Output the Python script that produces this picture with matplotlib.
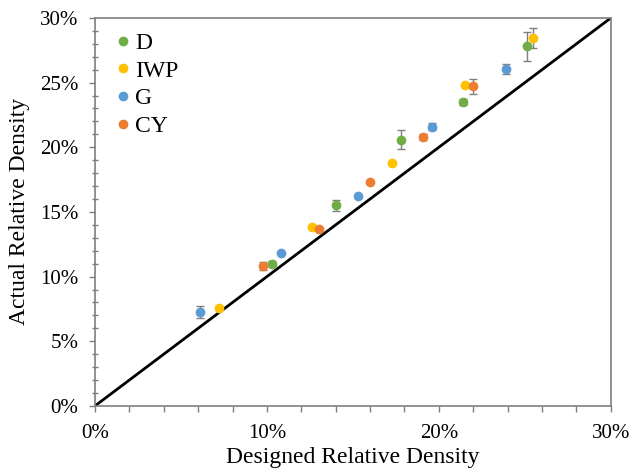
import numpy as np
import matplotlib
matplotlib.use("Agg")
import matplotlib.pyplot as plt
from matplotlib.ticker import PercentFormatter, MultipleLocator

# designed vs actual relative density, in percent
d_x = [10.3, 14.0, 17.8, 21.4, 25.1]
d_y = [11.0, 15.5, 20.6, 23.5, 27.8]
d_err = [0.2, 0.4, 0.75, 0.25, 1.1]

iwp_x = [7.2, 12.6, 17.3, 21.5, 25.45]
iwp_y = [7.55, 13.8, 18.8, 24.8, 28.45]
iwp_err = [0, 0, 0, 0, 0.78]

g_x = [6.1, 10.8, 15.3, 19.6, 23.9]
g_y = [7.25, 11.85, 16.2, 21.6, 26.05]
g_err = [0.45, 0, 0, 0.3, 0.35]

cy_x = [9.8, 13.0, 16.0, 19.1, 22.0]
cy_y = [10.8, 13.7, 17.3, 20.8, 24.7]
cy_err = [0.3, 0, 0, 0.2, 0.55]

plt.rcParams['font.family'] = ['Liberation Serif', 'DejaVu Serif']

fig = plt.figure(figsize=(6.33, 4.72), dpi=100)
ax = fig.add_axes([0.150, 0.140, 0.815, 0.822])

ax.plot([0, 30], [0, 30], color='black', lw=2.0, zorder=2)

series = [
    ("D", d_x, d_y, d_err, "#70AD47"),
    ("IWP", iwp_x, iwp_y, iwp_err, "#FFC000"),
    ("G", g_x, g_y, g_err, "#5B9BD5"),
    ("CY", cy_x, cy_y, cy_err, "#ED7D31"),
]
for name, xs, ys, es, col in series:
    ax.errorbar(xs, ys, yerr=es, fmt='none', ecolor='#7f7f7f', elinewidth=1.0,
                capsize=3, capthick=1.0, zorder=3)
    ax.plot(xs, ys, 'o', color=col, ms=6, label=name, zorder=4)

ax.set_xlim(0, 30)
ax.set_ylim(0, 30)
ax.xaxis.set_major_locator(MultipleLocator(10))
ax.xaxis.set_minor_locator(MultipleLocator(2))
ax.yaxis.set_major_locator(MultipleLocator(5))
ax.yaxis.set_minor_locator(MultipleLocator(1))
ax.xaxis.set_major_formatter(PercentFormatter(100, decimals=0))
ax.yaxis.set_major_formatter(PercentFormatter(100, decimals=0))

ax.tick_params(which='major', direction='out', length=4, width=1, color='#7f7f7f',
               labelsize=15)
ax.tick_params(axis='x', which='major', pad=9)
ax.tick_params(axis='y', which='major', pad=8)
ax.tick_params(axis='y', which='minor', direction='inout', length=5, width=1, color='#7f7f7f')
ax.tick_params(axis='x', which='minor', direction='out', length=4, width=1, color='#7f7f7f')

for s in ax.spines.values():
    s.set_color('#7f7f7f')
    s.set_linewidth(1.2)

ax.set_xlabel('Designed Relative Density', fontsize=17, labelpad=3)
ax.set_ylabel('Actual Relative Density', fontsize=17, labelpad=7)

ax.legend(loc='upper left', frameon=False, fontsize=17, handletextpad=0.02,
          borderaxespad=0.0, labelspacing=0.26, handlelength=1.0,
          bbox_to_anchor=(0.013, 0.987))

fig.savefig('out.png', dpi=100)
